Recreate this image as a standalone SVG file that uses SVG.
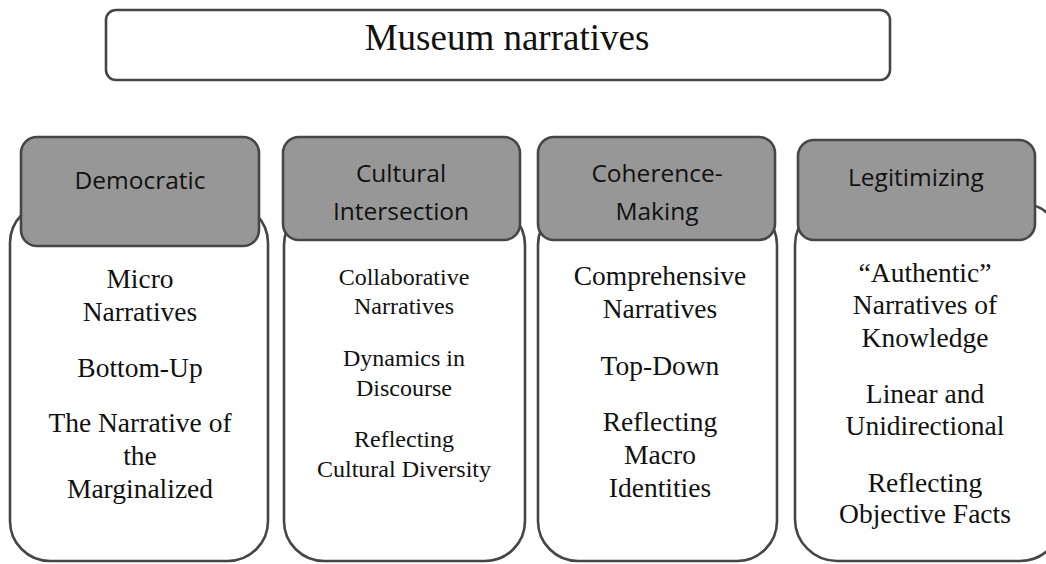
<svg xmlns="http://www.w3.org/2000/svg" width="1046" height="564" viewBox="0 0 1046 564">
  <style>
    .frame { fill: #ffffff; stroke: #464646; stroke-width: 2.6; }
    .head { fill: #979797; stroke: #464646; stroke-width: 2.6; }
    .title { font-family: "Liberation Serif", "Times New Roman", serif; font-size: 37px; fill: #111; text-anchor: middle; }
    .htxt { font-family: "Open Sans", "Noto Sans", sans-serif; font-size: 24.5px; fill: #111; text-anchor: middle; }
    .body { font-family: "Liberation Serif", "Times New Roman", serif; font-size: 27.5px; fill: #111; text-anchor: middle; }
    .small { font-size: 24px; }
  </style>
  <rect width="1046" height="564" fill="#ffffff"/>

  <!-- top title -->
  <g id="title">
    <rect class="frame" x="106" y="10" width="784" height="70" rx="10"/>
    <text class="title" x="507" y="50">Museum narratives</text>
  </g>

  <!-- no connectors in this chart -->
  <g id="connectors"/>

  <!-- column 1 -->
  <g id="democratic">
    <rect class="frame" x="10" y="203" width="258" height="358" rx="40"/>
    <rect class="head" x="21" y="137" width="238" height="109" rx="16"/>
    <text class="htxt" x="140" y="189">Democratic</text>
    <text class="body" x="140" y="288">Micro</text>
    <text class="body" x="140" y="321">Narratives</text>
    <text class="body" x="140" y="377">Bottom-Up</text>
    <text class="body" x="140" y="432">The Narrative of</text>
    <text class="body" x="140" y="465">the</text>
    <text class="body" x="140" y="498">Marginalized</text>
  </g>

  <!-- column 2 -->
  <g id="cultural-intersection">
    <rect class="frame" x="284" y="205" width="241" height="356" rx="40"/>
    <rect class="head" x="283" y="137" width="237" height="103" rx="16"/>
    <text class="htxt" x="401" y="182">Cultural</text>
    <text class="htxt" x="401" y="220">Intersection</text>
    <text class="body small" x="404" y="285">Collaborative</text>
    <text class="body small" x="404" y="314">Narratives</text>
    <text class="body small" x="404" y="366">Dynamics in</text>
    <text class="body small" x="404" y="396">Discourse</text>
    <text class="body small" x="404" y="447">Reflecting</text>
    <text class="body small" x="404" y="477">Cultural Diversity</text>
  </g>

  <!-- column 3 -->
  <g id="coherence-making">
    <rect class="frame" x="538" y="205" width="239" height="356" rx="40"/>
    <rect class="head" x="538" y="137" width="237" height="103" rx="16"/>
    <text class="htxt" x="657" y="182">Coherence-</text>
    <text class="htxt" x="657" y="220">Making</text>
    <text class="body" x="660" y="285">Comprehensive</text>
    <text class="body" x="660" y="318">Narratives</text>
    <text class="body" x="660" y="375">Top-Down</text>
    <text class="body" x="660" y="431">Reflecting</text>
    <text class="body" x="660" y="464">Macro</text>
    <text class="body" x="660" y="497">Identities</text>
  </g>

  <!-- column 4 -->
  <g id="legitimizing">
    <rect class="frame" x="795" y="203" width="267" height="358" rx="42"/>
    <rect class="head" x="798" y="140" width="237" height="100" rx="16"/>
    <text class="htxt" x="916" y="186">Legitimizing</text>
    <text class="body" x="925" y="282">“Authentic”</text>
    <text class="body" x="925" y="314">Narratives of</text>
    <text class="body" x="925" y="347">Knowledge</text>
    <text class="body" x="925" y="403">Linear and</text>
    <text class="body" x="925" y="435">Unidirectional</text>
    <text class="body" x="925" y="492">Reflecting</text>
    <text class="body" x="925" y="523">Objective Facts</text>
  </g>
</svg>
